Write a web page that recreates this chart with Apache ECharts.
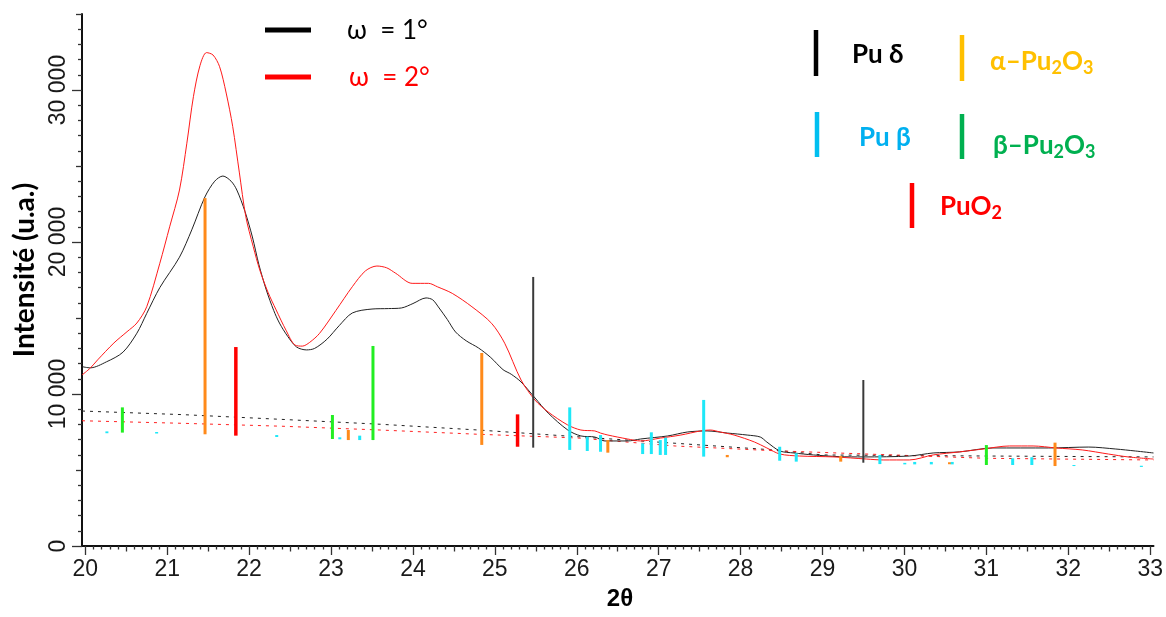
<!DOCTYPE html>
<html><head><meta charset="utf-8">
<script src="https://cdn.jsdelivr.net/npm/echarts@6/dist/echarts.min.js"></script>
<style>html,body{margin:0;padding:0;background:#fff}#c{width:1166px;height:617px}</style>
</head><body><div id="c"></div>
<script>
// ---- data ----
const xTickLabels = [20,21,22,23,24,25,26,27,28,29,30,31,32,33];
const yTickLabels = [0,10000,20000,30000];

const omega1 = [[19.96,11800],[20.06,11720],[20.26,12120],[20.46,12750],[20.63,14000],[20.75,15300],[20.91,17000],[21.15,19000],[21.3,20800],[21.46,22960],[21.58,24000],[21.68,24340],[21.78,24000],[21.85,23420],[21.95,22000],[22.04,20330],[22.12,18500],[22.21,16840],[22.3,15500],[22.37,14670],[22.47,13800],[22.58,13090],[22.7,12900],[22.8,13000],[22.95,13600],[23.1,14500],[23.26,15330],[23.5,15590],[23.7,15620],[23.86,15660],[24.0,15950],[24.16,16320],[24.24,16200],[24.31,15730],[24.42,14900],[24.52,14080],[24.65,13500],[24.8,13030],[24.95,12400],[25.1,11600],[25.2,11300],[25.32,10790],[25.49,9740],[25.65,8750],[25.89,7630],[26.05,7240],[26.22,7170],[26.34,6910],[26.62,6910],[26.78,7040],[27.11,7240],[27.35,7500],[27.59,7570],[27.84,7430],[28.08,7300],[28.24,7170],[28.32,6840],[28.48,6250],[28.65,6120],[28.89,5990],[29.2,5880],[29.5,5860],[30.06,5920],[30.35,6120],[30.67,6190],[31.08,6450],[31.76,6450],[32.25,6510],[32.58,6380],[32.82,6250],[33.04,6120]];

const omega2 = [[19.96,11250],[20.06,11700],[20.15,12240],[20.35,13360],[20.51,14100],[20.63,14670],[20.75,15740],[20.91,18600],[21.03,21000],[21.15,23420],[21.24,26500],[21.32,29560],[21.4,31600],[21.48,32460],[21.56,32300],[21.64,31530],[21.72,29800],[21.8,27590],[21.88,24600],[21.96,21660],[22.05,19700],[22.13,18160],[22.23,16700],[22.33,15530],[22.45,14200],[22.56,13220],[22.65,13150],[22.74,13400],[22.86,13990],[23.06,15500],[23.26,17060],[23.42,18100],[23.56,18420],[23.68,18300],[23.79,17940],[23.99,17280],[24.19,17280],[24.3,17050],[24.48,16620],[24.72,15740],[24.96,14650],[25.12,13340],[25.32,10920],[25.49,9600],[25.65,8820],[25.89,7960],[26.05,7630],[26.22,7570],[26.29,7430],[26.38,7300],[26.62,7040],[26.78,6910],[27.02,7100],[27.27,7300],[27.51,7570],[27.63,7630],[27.75,7500],[27.92,7300],[28.17,6840],[28.32,6450],[28.48,6050],[28.72,5920],[29.14,5860],[29.54,5720],[29.74,5660],[30.06,5660],[30.35,5990],[30.67,6190],[30.96,6380],[31.28,6580],[31.57,6580],[31.85,6450],[32.17,6320],[32.49,6050],[32.73,5860],[33.04,5720]];

const baseline1 = [[19.96,8880],[21.2,8640],[22.4,8330],[23.6,8010],[24.8,7630],[26.0,7190],[27.2,6760],[28.4,6320],[29.0,5990],[31.0,5920],[33.04,5860]];
const baseline2 = [[19.96,8240],[21.2,8070],[22.4,7880],[23.6,7630],[24.8,7350],[26.0,7110],[27.2,6580],[28.4,6270],[31.0,5770],[33.04,5660]];

// reference sticks: [2θ, bottom, top]
const puDelta = [[25.468,6470,17700],[29.498,5480,10920]];
const alphaPu2O3 = [[21.462,7350,22890],[23.211,6970,7630],[24.840,6650,12700],[26.379,6140,6970],[27.837,5840,5990],[29.222,5550,5920],[30.550,5380,5510],[31.838,5260,6800]];
const puO2 = [[21.838,7260,13090],[25.277,6530,8660]];
const betaPu2O3 = [[20.453,7460,9120],[23.017,7040,8620],[23.512,6970,13160],[31.000,5330,6640]];
const puBeta = [[20.264,7420,7540],[20.871,7400,7500],[22.337,7170,7300],[23.107,7020,7150],[23.350,6970,7260],[25.914,6320,9120],[26.128,6250,7190],[26.290,6200,7300],[26.804,6050,6760],[26.910,6050,7480],[27.019,5990,6970],[27.084,5990,7130],[27.549,5880,9610],[28.477,5610,6530],[28.679,5550,6100],[29.700,5390,5990],[30.004,5370,5470],[30.125,5370,5530],[30.328,5370,5530],[30.583,5370,5530],[31.321,5330,5770],[31.555,5330,5840],[32.069,5260,5330],[32.892,5200,5280]];

// ---- chart ----
const halfTicks = [], tenthTicks = [], y5000 = [], y1000 = [];
for (let i = 200; i <= 330; i++) { const v = i / 10; if (i % 10 === 5) halfTicks.push(v); else if (i % 10 !== 0) tenthTicks.push(v); }
for (let v = 0; v <= 35000; v += 1000) { if (v % 10000 === 5000) y5000.push(v); else if (v % 10000 !== 0) y1000.push(v); }

const XMIN = 19.96, XMAX = 33.04;
function xAx(ticks, len, show, extra) {
  return Object.assign({
    type: 'value', min: XMIN, max: XMAX, position: 'bottom',
    splitLine: {show: false},
    axisLine: {show: show, onZero: false, lineStyle: {color: '#111', width: 2}},
    axisTick: {show: true, customValues: ticks, length: len, lineStyle: {color: '#333', width: 1.3}},
    axisLabel: {show: false}
  }, extra || {});
}
function yAx(ticks, len, show, extra) {
  return Object.assign({
    type: 'value', min: 0, max: 35000, position: 'left',
    splitLine: {show: false},
    axisLine: {show: show, onZero: false, lineStyle: {color: '#111', width: 2}},
    axisTick: {show: true, customValues: ticks, length: len, lineStyle: {color: '#333', width: 1.3}},
    axisLabel: {show: false}
  }, extra || {});
}

function stickSeries(name, data, color, width) {
  return {
    type: 'custom', name: name, data: data, z: 5,
    encode: {x: 0, y: [1, 2]},
    renderItem: function (params, api) {
      const p1 = api.coord([api.value(0), api.value(1)]);
      const p2 = api.coord([api.value(0), api.value(2)]);
      return {type: 'line', shape: {x1: p1[0], y1: p1[1], x2: p2[0], y2: p2[1]},
        style: {stroke: color, lineWidth: width}};
    }
  };
}

const chart = echarts.init(document.getElementById('c'), null, {renderer: 'canvas'});
const legendFont = 'bold 26px Lato';
function richLabel(x, y, text, color) {
  return {type: 'text', x: x, y: y, z: 100, style: {
    text: text, verticalAlign: 'middle', align: 'left',
    rich: {
      n: {font: legendFont, fill: color, lineHeight: 30},
      s: {font: 'bold 18px Lato', fill: color, verticalAlign: 'bottom'}
    }
  }};
}
function bar(x, y1, y2, color) {
  return {type: 'line', z: 100, shape: {x1: x, y1: y1, x2: x, y2: y2}, style: {stroke: color, lineWidth: 4.5}};
}

chart.setOption({
  animation: false,
  backgroundColor: '#fff',
  grid: {left: 82, right: 8, top: 14, bottom: 71, containLabel: false},
  xAxis: [
    xAx(xTickLabels, 9, true, {axisLabel: {show: true, customValues: xTickLabels, margin: 12, fontSize: 23, fontFamily: 'Arial, "Liberation Sans"', color: '#1a1a1a'}}),
    xAx(halfTicks, 5.5, false),
    xAx(tenthTicks, 3.5, false)
  ],
  yAxis: [
    yAx(yTickLabels, 10, true, {axisLabel: {show: true, customValues: yTickLabels, rotate: 90, margin: 12, fontSize: 23, fontFamily: 'Arial, "Liberation Sans"', color: '#1a1a1a',
      formatter: function (v) { return v === 0 ? '0' : (v / 1000) + ' 000'; }}}),
    yAx(y5000, 6, false),
    yAx(y1000, 4, false)
  ],
  series: [
    {type: 'line', name: 'base1', data: baseline1, showSymbol: false, symbol: 'none', z: 1,
      lineStyle: {color: '#222', width: 1, type: [3, 5]}},
    {type: 'line', name: 'base2', data: baseline2, showSymbol: false, symbol: 'none', z: 1,
      lineStyle: {color: '#ff2020', width: 1, type: [3, 5]}},
    {type: 'line', name: 'ω = 1°', data: omega1, showSymbol: false, symbol: 'none', smooth: 0.3, z: 2,
      lineStyle: {color: '#222', width: 1}},
    {type: 'line', name: 'ω = 2°', data: omega2, showSymbol: false, symbol: 'none', smooth: 0.3, z: 3,
      lineStyle: {color: '#ff1a1a', width: 1}},
    stickSeries('Pu δ', puDelta, '#3a3a3a', 2),
    stickSeries('α–Pu2O3', alphaPu2O3, '#ff8a1a', 3),
    stickSeries('PuO2', puO2, '#ff0000', 3.5),
    stickSeries('β–Pu2O3', betaPu2O3, '#22ee22', 3),
    stickSeries('Pu β', puBeta, '#1ee8f8', 3)
  ],
  graphic: [
    // axis names
    {type: 'text', x: 25, y: 270, rotation: Math.PI / 2, z: 100, style: {text: 'Intensité (u.a.)', font: 'bold 28px Lato', fill: '#000', align: 'center', verticalAlign: 'middle'}},
    {type: 'text', x: 620, y: 599, z: 100, style: {text: '2θ', font: 'bold 24px "Liberation Sans"', fill: '#000', align: 'center', verticalAlign: 'middle'}},
    // left legend
    {type: 'line', z: 100, shape: {x1: 265, y1: 30, x2: 311, y2: 30}, style: {stroke: '#000', lineWidth: 5}},
    {type: 'text', x: 347, y: 31, z: 100, style: {text: 'ω  = 1°', font: '26px Lato', fill: '#000', verticalAlign: 'middle'}},
    {type: 'line', z: 100, shape: {x1: 265, y1: 77, x2: 311, y2: 77}, style: {stroke: '#ff0000', lineWidth: 5}},
    {type: 'text', x: 349, y: 78, z: 100, style: {text: 'ω  = 2°', font: '26px Lato', fill: '#ff0000', verticalAlign: 'middle'}},
    // right legend
    bar(816, 30, 76, '#000'),
    {type: 'text', x: 852, y: 55, z: 100, style: {text: 'Pu δ', font: legendFont, fill: '#000', verticalAlign: 'middle'}},
    bar(962, 35, 81, '#ffc000'),
    richLabel(990, 62, '{n|α–Pu}{s|2}{n|O}{s|3}', '#ffc000'),
    bar(817, 112, 157, '#00bff0'),
    {type: 'text', x: 859, y: 138, z: 100, style: {text: 'Pu β', font: legendFont, fill: '#00b0f0', verticalAlign: 'middle'}},
    bar(962, 114, 159, '#00b050'),
    richLabel(993, 146, '{n|β–Pu}{s|2}{n|O}{s|3}', '#00b050'),
    bar(912, 183, 228, '#ff0000'),
    richLabel(940, 207, '{n|PuO}{s|2}', '#ff0000')
  ]
});
</script></body></html>
